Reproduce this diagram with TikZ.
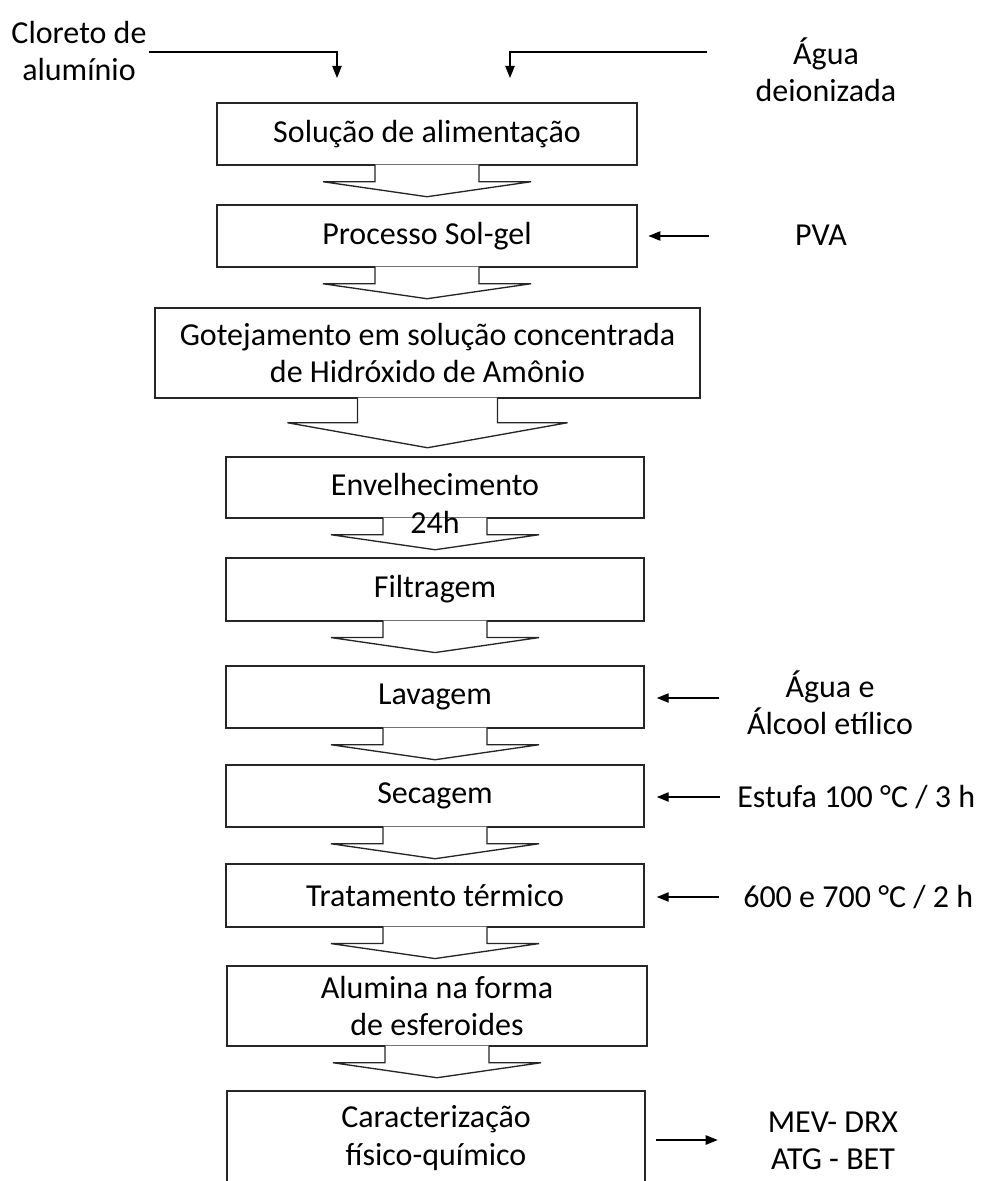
\documentclass[tikz,border=0pt]{standalone}
\usepackage{fontspec}
\setmainfont{Carlito}
\usetikzlibrary{arrows.meta,calc,positioning}

\tikzset{
  stage/.style={draw=black!85, line width=1.1pt, align=center,
    minimum width=313.5pt, minimum height=46.5pt, inner sep=0pt},
  wide/.style={minimum width=409pt, minimum height=67.5pt},
  info/.style={align=center, inner sep=0pt},
  feed/.style={draw=black, line width=1pt, -{Triangle[length=9pt,width=7pt]}},
  blockarrow/.style={draw=black!85, fill=white, line width=1pt, line join=miter}
}

\begin{document}
\begin{tikzpicture}[x=0.75pt, y=-0.75pt, font=\fontsize{24}{28}\selectfont]
  \clip (0,0) rectangle (984,1181);

  % process steps
  \node[stage, minimum width=315pt] (sol)    at (427,134)   {Solução de alimentação};
  \node[stage, minimum width=315pt] (solgel) at (427,236)   {Processo Sol-gel};
  \node[stage, wide] (gotej)  at (427.5,353) {Gotejamento em solução concentrada\\de Hidróxido de Amônio};
  \node[stage, minimum height=45.75pt] (envelh) at (435,487.5) {\raisebox{4pt}{Envelhecimento}};
  \node[stage, minimum height=47pt] (filtr)  at (435,589.5) {Filtragem};
  \node[stage] (lavag)  at (435,697)   {Lavagem};
  \node[stage] (secag)  at (435,796)   {Secagem};
  \node[stage, minimum height=47pt] (trat)   at (435,895.5) {Tratamento térmico};
  \node[stage, minimum width=315pt, minimum height=60pt] (alum) at (437,1006) {Alumina na forma\\de esferoides};
  \node[stage, minimum height=70.5pt] (caract) at (436,1138) {Caracterização\\físico-químico};

  % inputs and outputs
  \node[info] (cloreto) at (79,51)    {Cloreto de\\alumínio};
  \node[info] (agua)    at (826,70) {Água\\deionizada};
  \node[info] (pva)     at (821,235)  {PVA};
  \node[info] (aguaalc) at (830,703)  {Água e\\Álcool etílico};
  \node[info, anchor=west] (estufa) at (737,797) {Estufa 100 °C / 3 h};
  \node[info, anchor=west] (forno)  at (743,897) {600 e 700 °C / 2 h};
  \node[info] (analise) at (833,1141) {MEV- DRX\\ATG - BET};

  \coordinate (inL)    at (337,78);
  \coordinate (inR)    at (510,78);
  \coordinate (aguaIn) at (707,52);
  \coordinate (pvaIn)  at ($(solgel.east)+(71,0)$);
  \coordinate (lavIn)  at ($(lavag.east)+(74,1)$);
  \coordinate (secIn)  at ($(secag.east)+(75,1)$);
  \coordinate (tratIn) at ($(trat.east)+(74,1.5)$);
  \coordinate (anOut)  at ($(caract.east)+(72,2)$);

  \draw[feed] (cloreto.east |- inL) ++(2,-26) -| (inL);
  \draw[feed] (aguaIn) -| (inR);
  \draw[feed, shorten >=8pt] (pvaIn) -- (solgel.east);
  \draw[feed, shorten >=9pt] (lavIn) -- (lavag.east |- lavIn);
  \draw[feed, shorten >=9pt] (secIn) -- (secag.east |- secIn);
  \draw[feed, shorten >=9pt] (tratIn) -- (trat.east |- tratIn);
  \draw[feed, shorten <=8pt] (caract.east |- anOut) -- (anOut);

  % block arrows between steps
  \foreach \n in {sol,solgel,envelh,filtr,lavag,secag,trat,alum}
    \filldraw[blockarrow] (\n.south) +(-52,-1) -- +(-52,16) -- +(-104,16)
      -- +(0,31) -- +(104,16) -- +(52,16) -- +(52,-1);
  \filldraw[blockarrow] (gotej.south) +(-70,-1) -- +(-70,24) -- +(-140,24)
    -- +(0,49) -- +(140,24) -- +(70,24) -- +(70,-1);

  \node[info] (horas) at (435,522) {24h};
\end{tikzpicture}
\end{document}
